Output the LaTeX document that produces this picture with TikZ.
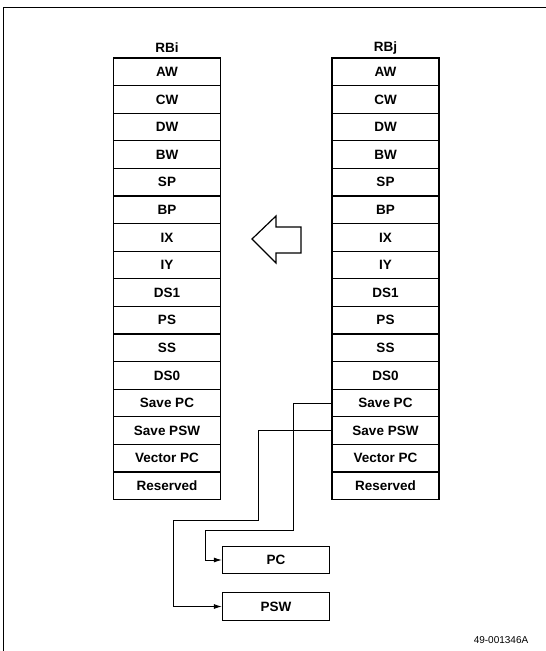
\documentclass[tikz,border=0pt]{standalone}
\usepackage{fontspec}
\setmainfont{Liberation Sans}
\usetikzlibrary{arrows.meta}
\begin{document}
\begin{tikzpicture}[x=1pt,y=-1pt,
  regbox/.style={draw,line width=1.3pt,minimum width=107pt,minimum height=27.6pt,inner sep=0pt,font=\fontsize{13.5}{15}\selectfont\bfseries},
  title/.style={font=\fontsize{13.5}{15}\selectfont\bfseries,inner sep=0pt},
  conn/.style={line width=0.9pt},
  arr/.style={conn,-{Latex[length=8pt,width=5pt]}}]
\useasboundingbox (0,0) rectangle (546,651);
\draw[line width=1pt] (3,651) -- (3,7) -- (546,7);
\node[title] (ti) at (167,48) {RBi};
\node[title] (tj) at (385.5,48) {RBj};
\foreach \t [count=\i] in {AW,CW,DW,BW,SP,BP,IX,IY,DS1,PS,SS,DS0,Save PC,Save PSW,Vector PC,Reserved}{
  \node[regbox] (L\i) at (167,{58+(\i-0.5)*27.6}) {\t};
  \node[regbox] (R\i) at (385.5,{58+(\i-0.5)*27.6}) {\t};
}
\draw[line width=1.2pt,line join=miter] (252,239) -- (276,216) -- (276,227) -- (301,227) -- (301,253) -- (276,253) -- (276,263) -- cycle;
\node[regbox] (pc) at (276,560) {PC};
\node[regbox] (psw) at (276,606.5) {PSW};
\coordinate (a1) at (293,530);
\coordinate (a2) at (205,530);
\coordinate (b1) at (258,520);
\coordinate (b2) at (173,520);
\draw[arr] (R13.west) -| (a1) -- (a2) |- (pc.west);
\draw[arr] (R14.west) -| (b1) -- (b2) |- (psw.west);
\node[inner sep=0pt,font=\fontsize{10}{11}\selectfont] (id) at (501,640) {49-001346A};
\end{tikzpicture}
\end{document}
